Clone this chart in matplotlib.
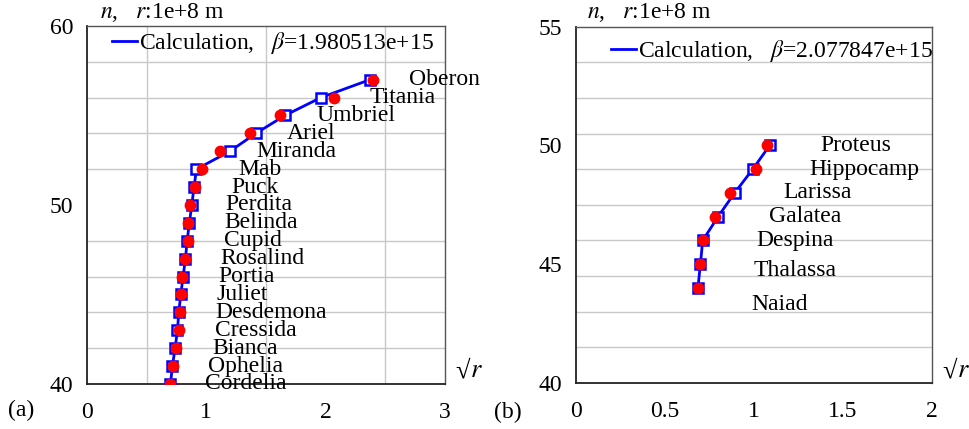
import matplotlib.pyplot as plt
from matplotlib.lines import Line2D
from matplotlib.ticker import FormatStrFormatter
import numpy as np

plt.rcParams['font.family'] = ['Liberation Serif', 'DejaVu Serif']
plt.rcParams['mathtext.fontset'] = 'stix'
plt.rcParams['font.size'] = 17

# panel (a): Uranus moons
n_a = [40, 41, 42, 43, 44, 45, 46, 47, 48, 49, 50, 51, 52, 53, 54, 55, 56, 57]
calc_a = [0.699, 0.716, 0.738, 0.758, 0.769, 0.786, 0.805, 0.825, 0.839, 0.858,
          0.878, 0.897, 0.917, 1.197, 1.415, 1.658, 1.960, 2.371]
obs_a = [0.693, 0.718, 0.749, 0.769, 0.777, 0.786, 0.800, 0.819, 0.850, 0.850,
         0.861, 0.909, 0.967, 1.118, 1.370, 1.621, 2.066, 2.399]
names_a = ['Cordelia', 'Ophelia', 'Bianca', 'Cressida', 'Desdemona', 'Juliet',
           'Portia', 'Rosalind', 'Cupid', 'Belinda', 'Perdita', 'Puck', 'Mab',
           'Miranda', 'Ariel', 'Umbriel', 'Titania', 'Oberon']
beta_a = '1.980513e+15'

# panel (b): Neptune moons
n_b = [44, 45, 46, 47, 48, 49, 50]
calc_b = [0.685, 0.699, 0.712, 0.798, 0.891, 0.993, 1.088]
obs_b = [0.685, 0.699, 0.713, 0.783, 0.867, 1.009, 1.073]
names_b = ['Naiad', 'Thalassa', 'Despina', 'Galatea', 'Larissa', 'Hippocamp', 'Proteus']
label_n_b = [43.3, 44.75, 46, 47, 48, 49, 50]
beta_b = '2.077847e+15'

fig = plt.figure(figsize=(9.69, 4.29), dpi=100)
ax1 = fig.add_axes([0.0898, 0.1049, 0.3694, 0.8345])
ax2 = fig.add_axes([0.5944, 0.1072, 0.3674, 0.8306])


def draw(ax, n, calc, obs, names, lab_n, beta, xlim, ylim, xmaj, ymaj, xmin, ymin, leg_xy):
    ax.plot(calc, n, '-s', color='blue', lw=2, ms=7.5, mfc='white', mec='blue', mew=1.8,
            zorder=3)
    ax.plot(obs, n, 'o', color='red', ms=7.5, mec='red', zorder=4)
    for xo, yl, name in zip(obs, lab_n, names):
        ax.text(xo + 0.3, yl, name, ha='left', va='center', fontsize=17, zorder=5)
    ax.set_xlim(*xlim)
    ax.set_ylim(*ylim)
    ax.set_xticks(xmaj)
    ax.set_yticks(ymaj)
    ax.set_xticks(xmin, minor=True)
    ax.set_yticks(ymin, minor=True)
    ax.xaxis.set_major_formatter(FormatStrFormatter('%g'))
    ax.tick_params(which='both', length=0)
    ax.tick_params(axis='x', pad=13)
    ax.tick_params(axis='y', pad=10)
    ax.grid(which='minor', color='#c8c8c8', lw=1)
    ax.grid(which='major', visible=False)
    ax.set_axisbelow(True)
    for s in ['left', 'bottom']:
        ax.spines[s].set_color('#222222')
        ax.spines[s].set_linewidth(1.3)
    for s in ['top', 'right']:
        ax.spines[s].set_color('#555555')
        ax.spines[s].set_linewidth(1.0)
    handle = Line2D([], [], color='blue', lw=2)
    ax.legend([handle], ['Calculation,   $\\beta$=' + beta], loc='center left',
              bbox_to_anchor=leg_xy, frameon=False, borderaxespad=0, borderpad=0,
              handlelength=1.05, handletextpad=0.1, fontsize=17)
    # x axis name: bold radical followed by italic r
    ax.text(1.03, 0.035, '\u221a', transform=ax.transAxes, fontsize=19,
            fontweight='bold', ha='left', va='center')
    ax.annotate('$r$', xy=(1.03, 0.035), xycoords='axes fraction', xytext=(10, 0),
                textcoords='offset points', fontsize=19, ha='left', va='center')


draw(ax1, n_a, calc_a, obs_a, names_a, n_a, beta_a, (0, 3), (40, 60),
     [0, 1, 2, 3], [40, 50, 60], np.arange(0, 3.01, 0.5), np.arange(40, 60.1, 2),
     (0.07, 0.952))
draw(ax2, n_b, calc_b, obs_b, names_b, label_n_b, beta_b, (0, 2), (40, 55),
     [0, 0.5, 1, 1.5, 2], [40, 45, 50, 55], np.arange(0, 2.01, 0.5),
     np.arange(40, 55.1, 1.5), (0.098, 0.932))

fig.text(100 / 969, 1 - 13 / 429, '$n$,   $r$:1e+8 m', ha='left', va='center', fontsize=17)
fig.text(587 / 969, 1 - 13 / 429, '$n$,   $r$:1e+8 m', ha='left', va='center', fontsize=17)
fig.text(8 / 969, 1 - 410 / 429, '(a)', ha='left', va='center', fontsize=17)
fig.text(494 / 969, 1 - 412 / 429, '(b)', ha='left', va='center', fontsize=17)

fig.savefig('out.png', dpi=100)
